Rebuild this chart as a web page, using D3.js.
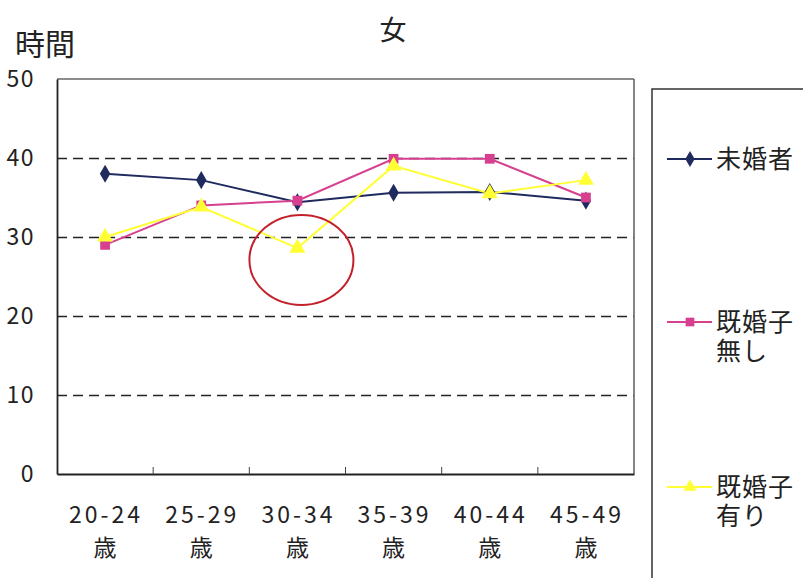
<!DOCTYPE html>
<html><head><meta charset="utf-8">
<script src="https://cdn.jsdelivr.net/npm/d3@7"></script>
<style>
body{margin:0;background:#fff;}
svg{display:block;font-family:"Noto Sans CJK JP","Noto Sans",sans-serif;}
</style></head>
<body>
<svg id="c" width="803" height="578"></svg>
<script>
const categories = ["20-24", "25-29", "30-34", "35-39", "40-44", "45-49"];
const catSuffix = "歳";
const seriesNames = ["未婚者", "既婚子無し", "既婚子有り"];
const unmarried = [38.0, 37.2, 34.4, 35.6, 35.7, 34.6];
const marriedNoChild = [29.0, 34.0, 34.6, 39.9, 39.9, 35.0];
const marriedWithChild = [30.0, 33.8, 28.6, 39.0, 35.5, 37.2];
const yTicks = [0, 10, 20, 30, 40, 50];
const title = "女";
const yTitle = "時間";

const series = [
  {name: seriesNames[0], values: unmarried, color: "#1f2a5e", symbol: d3.symbolDiamond, lines: ["未婚者"]},
  {name: seriesNames[1], values: marriedNoChild, color: "#d6408f", symbol: d3.symbolSquare, lines: ["既婚子", "無し"]},
  {name: seriesNames[2], values: marriedWithChild, color: "#ffff33", symbol: d3.symbolTriangle, lines: ["既婚子", "有り"]}
];

const svg = d3.select("#c");
const L = 57, R = 634, T = 79, B = 474;
const x = d3.scaleBand().domain(categories).range([L, R]);
const y = d3.scaleLinear().domain([0, 50]).range([B, T]);

// gridlines
svg.append("g").selectAll("line").data(yTicks.filter(d => d > 0 && d < 50)).join("line")
  .attr("x1", L).attr("x2", R).attr("y1", d => Math.round(y(d)) + 0.5).attr("y2", d => Math.round(y(d)) + 0.5)
  .attr("stroke", "#222").attr("stroke-width", 1.3).attr("stroke-dasharray", "10,6");

// plot frame top/right
svg.append("line").attr("x1", L).attr("x2", R).attr("y1", y(50)).attr("y2", y(50)).attr("stroke", "#666").attr("stroke-width", 1.6);
svg.append("line").attr("x1", R).attr("x2", R).attr("y1", y(50)).attr("y2", y(0)).attr("stroke", "#666").attr("stroke-width", 1.6);

// y axis
const yAxis = svg.append("g").attr("transform", `translate(${L},0)`)
  .call(d3.axisLeft(y).tickValues(yTicks).tickSize(0).tickPadding(22));
yAxis.select(".domain").attr("stroke", "#222").attr("stroke-width", 1.8);
yAxis.selectAll("text").attr("font-size", 23).attr("fill", "#222")
  .attr("font-family", "'Noto Sans CJK JP', sans-serif").attr("letter-spacing", 1.5);

// x axis
const xAxis = svg.append("g").attr("transform", `translate(0,${B})`)
  .call(d3.axisBottom(x).tickSize(0).tickFormat(""));
xAxis.select(".domain").attr("stroke", "#222").attr("stroke-width", 2);
// tick marks between categories
svg.append("g").selectAll("line").data(categories.slice(1)).join("line")
  .attr("x1", d => x(d)).attr("x2", d => x(d)).attr("y1", B).attr("y2", B - 7)
  .attr("stroke", "#444").attr("stroke-width", 1);
// category labels
const lab = svg.append("g").selectAll("text").data(categories).join("text")
  .attr("x", d => x(d) + x.bandwidth() / 2).attr("text-anchor", "middle")
  .attr("font-size", 23).attr("fill", "#222");
lab.append("tspan").attr("x", d => x(d) + x.bandwidth() / 2 + 1).attr("y", 523)
  .attr("letter-spacing", 3).text(d => d);
lab.append("tspan").attr("x", d => x(d) + x.bandwidth() / 2).attr("y", 556).text(catSuffix);

// lines
const line = d3.line().x((d, i) => x(categories[i]) + x.bandwidth() / 2).y(d => y(d));
series.forEach(s => {
  svg.append("path").datum(s.values).attr("d", line).attr("fill", "none")
    .attr("stroke", s.color).attr("stroke-width", 2);
});
series.forEach(s => {
  svg.append("g").selectAll("path").data(s.values).join("path")
    .attr("transform", (d, i) => `translate(${x(categories[i]) + x.bandwidth() / 2},${y(d)})`)
    .attr("d", d3.symbol().type(s.symbol).size(s.symbol === d3.symbolTriangle ? 110 : 95))
    .attr("fill", s.color);
});

// red annotation ellipse
svg.append("ellipse").attr("cx", x(categories[2]) + x.bandwidth() / 2 + 4).attr("cy", y(27.1))
  .attr("rx", 52).attr("ry", 45).attr("fill", "none").attr("stroke", "#c4202c").attr("stroke-width", 2);

// titles
svg.append("text").attr("x", 393).attr("y", 40).attr("text-anchor", "middle")
  .attr("font-size", 27).attr("fill", "#222").text(title);
svg.append("text").attr("x", 15).attr("y", 55)
  .attr("font-size", 30).attr("fill", "#222").text(yTitle);

// legend
svg.append("rect").attr("x", 652).attr("y", 89).attr("width", 170).attr("height", 520)
  .attr("fill", "none").attr("stroke", "#333").attr("stroke-width", 1.5);
const legY = [159, 322, 487];
series.forEach((s, i) => {
  const g = svg.append("g").attr("transform", `translate(0,${legY[i]})`);
  g.append("line").attr("x1", 667).attr("x2", 712).attr("y1", 0).attr("y2", 0)
    .attr("stroke", s.color).attr("stroke-width", 2);
  g.append("path").attr("transform", "translate(690,0)")
    .attr("d", d3.symbol().type(s.symbol).size(75)).attr("fill", s.color);
  const t = g.append("text").attr("font-size", 25).attr("fill", "#222").attr("letter-spacing", 1);
  s.lines.forEach((ln, j) => {
    t.append("tspan").attr("x", 716).attr("y", 9 + j * 29).text(ln);
  });
});
</script>
</body></html>
